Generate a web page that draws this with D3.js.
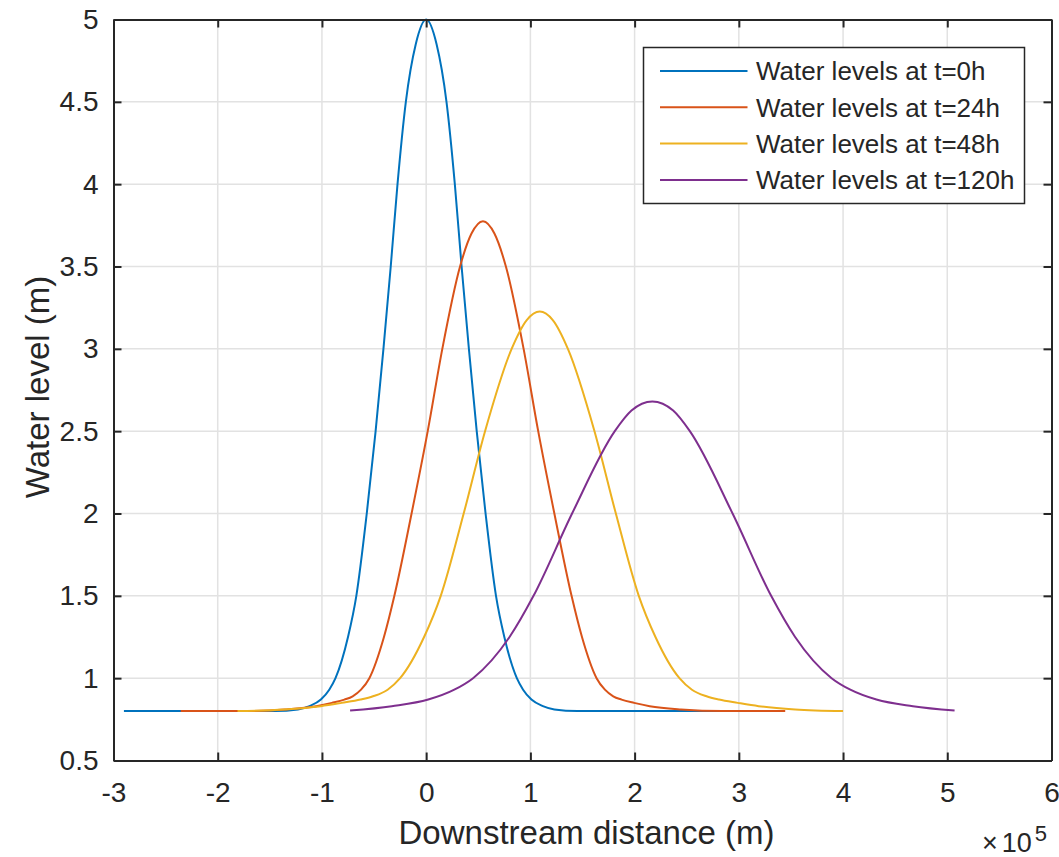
<!DOCTYPE html>
<html>
<head>
<meta charset="utf-8">
<script src="https://cdn.jsdelivr.net/npm/d3@7"></script>
<style>
  body { margin: 0; background: #fff; }
  text { font-family: "Liberation Sans", Arial, sans-serif; fill: #262626; }
</style>
</head>
<body>
<div id="chart"></div>
<script>
// distance in metres, water level in metres
const seriesNames = ["Water levels at t=0h", "Water levels at t=24h", "Water levels at t=48h", "Water levels at t=120h"];

const x0h = [-290000, -145000, -123000, -112000, -101000, -93000, -87000, -75000, -67000, -57000, -48500, -41000, -34000, -27500, -19500, -10000, 0,
  10000, 19500, 27500, 34000, 41000, 48500, 57000, 67000, 75000, 87000, 93000, 101000, 112000, 123000, 145000, 290000];
const y0h = [0.80, 0.80, 0.81, 0.83, 0.87, 0.93, 1.0, 1.25, 1.5, 2.0, 2.5, 3.0, 3.5, 4.0, 4.5, 4.85, 5.0,
  4.85, 4.5, 4.0, 3.5, 3.0, 2.5, 2.0, 1.5, 1.25, 1.0, 0.93, 0.87, 0.83, 0.81, 0.80, 0.80];

const x24h = [-235500, -175500, -135500, -105500, -90500, -78500, -70500, -62500, -54500, -40500, -30500, -14000, 1500, 15500, 32500, 43500, 54500,
  65500, 76500, 93500, 107500, 123000, 139500, 149500, 163500, 171500, 179500, 187500, 199500, 214500, 244500, 284500, 344500];
const y24h = [0.80, 0.80, 0.81, 0.83, 0.85, 0.87, 0.89, 0.93, 1.0, 1.25, 1.5, 2.0, 2.5, 3.0, 3.5, 3.70, 3.775,
  3.70, 3.5, 3.0, 2.5, 2.0, 1.5, 1.25, 1.0, 0.93, 0.89, 0.87, 0.85, 0.83, 0.81, 0.80, 0.80];

const x48h = [-181000, -136000, -101000, -81000, -63000, -51000, -37000, -25000, -2000, 14000, 36000, 56500, 82000, 96500, 109000,
  121500, 136000, 161500, 182000, 204000, 220000, 243000, 255000, 269000, 281000, 299000, 319000, 354000, 400000];
const y48h = [0.80, 0.81, 0.83, 0.85, 0.87, 0.89, 0.93, 1.0, 1.25, 1.5, 2.0, 2.5, 3.0, 3.175, 3.227,
  3.175, 3.0, 2.5, 2.0, 1.5, 1.25, 1.0, 0.93, 0.89, 0.87, 0.85, 0.83, 0.81, 0.80];

const x120h = [-73000, -33000, 2000, 27000, 45000, 80000, 103000, 140000, 181000, 197000, 217000,
  237000, 253000, 294000, 331000, 354000, 389000, 407000, 432000, 467000, 507000];
const y120h = [0.803, 0.83, 0.87, 0.93, 1.0, 1.25, 1.5, 2.0, 2.5, 2.625, 2.68,
  2.625, 2.5, 2.0, 1.5, 1.25, 1.0, 0.93, 0.87, 0.83, 0.803];

const xTicks = [-300000, -200000, -100000, 0, 100000, 200000, 300000, 400000, 500000, 600000];
const yTicks = [0.5, 1, 1.5, 2, 2.5, 3, 3.5, 4, 4.5, 5];
const colors = ["#0072BD", "#D95319", "#EDB120", "#7E2F8E"];

const width = 1059;
const height = 857;
const margin = {top: 19.5, right: 7.5, bottom: 96.5, left: 113.5};

const series = [[x0h, y0h], [x24h, y24h], [x48h, y48h], [x120h, y120h]]
  .map(([xs, ys], i) => ({name: seriesNames[i], color: colors[i], values: xs.map((x, j) => ({x, y: ys[j]}))}));

const svg = d3.select('#chart')
  .append('svg')
  .attr('width', width)
  .attr('height', height)

svg.append('rect').attr('width', width).attr('height', height).attr('fill', '#fff')

const xScale = d3.scaleLinear()
  .domain([-300000, 600000])
  .range([margin.left, width - margin.right])

const yScale = d3.scaleLinear()
  .domain([0.5, 5])
  .range([height - margin.bottom, margin.top])

// grid
const grid = svg.append('g').attr('stroke', '#e2e2e2').attr('stroke-width', 1.5)
grid.selectAll('.gx')
  .data(xTicks.slice(1, -1))
  .enter()
  .append('line')
  .attr('x1', d => xScale(d)).attr('x2', d => xScale(d))
  .attr('y1', margin.top).attr('y2', height - margin.bottom)
grid.selectAll('.gy')
  .data(yTicks.slice(1, -1))
  .enter()
  .append('line')
  .attr('y1', d => yScale(d)).attr('y2', d => yScale(d))
  .attr('x1', margin.left).attr('x2', width - margin.right)

// curves
const line = d3.line()
  .x(d => xScale(d.x))
  .y(d => yScale(d.y))
  .curve(d3.curveMonotoneX)

svg.append('g')
  .selectAll('path')
  .data(series)
  .enter()
  .append('path')
  .attr('fill', 'none')
  .attr('stroke', d => d.color)
  .attr('stroke-width', 2)
  .attr('d', d => line(d.values))

// axes, MATLAB style box with inward ticks
const styleAxis = g => {
  g.select('.domain').attr('stroke', '#262626').attr('stroke-width', 2)
  g.selectAll('.tick line').attr('stroke', '#262626').attr('stroke-width', 2)
  g.selectAll('.tick text').attr('fill', '#262626').style('font-size', '28px').attr('font-family', null)
}

svg.append('g')
  .attr('transform', `translate(0, ${height - margin.bottom})`)
  .call(d3.axisBottom(xScale).tickValues(xTicks).tickFormat(d => d / 100000).tickSizeInner(-8).tickSizeOuter(0).tickPadding(22))
  .call(styleAxis)

svg.append('g')
  .attr('transform', `translate(0, ${margin.top})`)
  .call(d3.axisTop(xScale).tickValues(xTicks).tickFormat('').tickSizeInner(-8).tickSizeOuter(0))
  .call(styleAxis)

svg.append('g')
  .attr('transform', `translate(${margin.left}, 0)`)
  .call(d3.axisLeft(yScale).tickValues(yTicks).tickFormat(d => d).tickSizeInner(-8).tickSizeOuter(0).tickPadding(15))
  .call(styleAxis)

svg.append('g')
  .attr('transform', `translate(${width - margin.right}, 0)`)
  .call(d3.axisRight(yScale).tickValues(yTicks).tickFormat('').tickSizeInner(-8).tickSizeOuter(0))
  .call(styleAxis)

// axis labels
svg.append('text')
  .attr('x', (margin.left + width - margin.right) / 2 + 4)
  .attr('y', 844)
  .attr('text-anchor', 'middle')
  .style('font-size', '33px')
  .text('Downstream distance (m)')

svg.append('text')
  .attr('transform', `translate(49, ${(margin.top + height - margin.bottom) / 2 - 3}) rotate(-90)`)
  .attr('text-anchor', 'middle')
  .style('font-size', '33px')
  .text('Water level (m)')

const expo = svg.append('text')
  .attr('x', 982)
  .attr('y', 852)
  .style('font-size', '27px')
expo.append('tspan').text('\u00d7')
expo.append('tspan').text('10').attr('dx', 4)
expo.append('tspan').text('5').attr('dx', 3).attr('dy', -11).style('font-size', '22px')

// legend
const legend = svg.append('g').attr('transform', 'translate(643.5, 47.5)')
legend.append('rect')
  .attr('width', 381)
  .attr('height', 156)
  .attr('fill', '#fff')
  .attr('stroke', '#262626')
  .attr('stroke-width', 1.5)

const rows = legend.selectAll('.row')
  .data(series)
  .enter()
  .append('g')
  .attr('transform', (d, i) => `translate(0, ${23.5 + i * 36.3})`)

rows.append('line')
  .attr('x1', 16.5).attr('x2', 104)
  .attr('stroke', d => d.color)
  .attr('stroke-width', 2)

rows.append('text')
  .attr('x', 112.5)
  .attr('dy', '0.36em')
  .style('font-size', '26px')
  .text(d => d.name)
</script>
</body>
</html>
